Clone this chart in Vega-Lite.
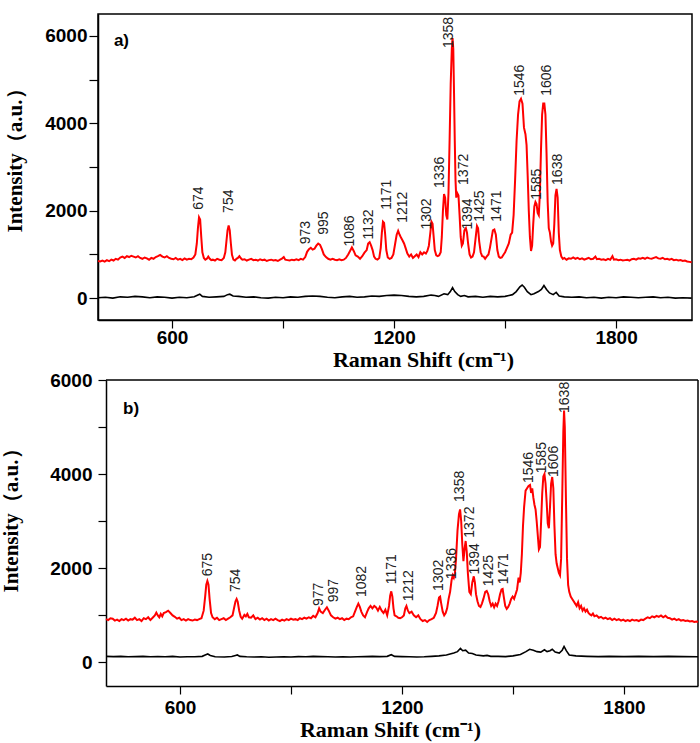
{
  "$schema": "https://vega.github.io/schema/vega-lite/v6.json",
  "padding": {"left": 0, "top": 13, "right": 3, "bottom": 2},
  "background": "white",
  "config": {
    "view": {"stroke": "#000", "strokeWidth": 1.5},
    "axis": {"grid": false, "domainColor": "#000", "domainWidth": 1.5, "tickColor": "#000", "tickWidth": 1.2, "tickSize": 8, "labelFont": "Liberation Sans", "labelFontWeight": "bold", "labelFontSize": 19, "labelColor": "#000", "titleFont": "Liberation Serif", "titleFontWeight": "bold", "titleFontSize": 21, "titleColor": "#000", "labelFlush": false}
  },
  "datasets": {
    "a_sample": [
      {"shift":400,"intensity":850},{"shift":406,"intensity":840},{"shift":412,"intensity":860},{"shift":418,"intensity":835},{"shift":424,"intensity":870},{"shift":430,"intensity":845},{"shift":436,"intensity":880},{"shift":442,"intensity":860},{"shift":448,"intensity":900},{"shift":454,"intensity":880},{"shift":460,"intensity":930},{"shift":466,"intensity":950},{"shift":472,"intensity":920},{"shift":478,"intensity":960},{"shift":484,"intensity":940},{"shift":490,"intensity":970},{"shift":496,"intensity":950},{"shift":502,"intensity":930},{"shift":508,"intensity":960},{"shift":514,"intensity":920},{"shift":520,"intensity":900},{"shift":526,"intensity":930},{"shift":532,"intensity":910},{"shift":538,"intensity":880},{"shift":544,"intensity":920},{"shift":550,"intensity":900},{"shift":556,"intensity":940},{"shift":562,"intensity":960},{"shift":568,"intensity":990},{"shift":574,"intensity":950},{"shift":580,"intensity":930},{"shift":586,"intensity":960},{"shift":592,"intensity":920},{"shift":598,"intensity":900},{"shift":604,"intensity":890},{"shift":610,"intensity":920},{"shift":616,"intensity":880},{"shift":622,"intensity":900},{"shift":628,"intensity":870},{"shift":634,"intensity":910},{"shift":640,"intensity":880},{"shift":646,"intensity":900},{"shift":652,"intensity":890},{"shift":658,"intensity":930},{"shift":663,"intensity":1000},{"shift":667,"intensity":1250},{"shift":670,"intensity":1600},{"shift":673,"intensity":1850},{"shift":676,"intensity":1800},{"shift":679,"intensity":1400},{"shift":682,"intensity":1050},{"shift":686,"intensity":920},{"shift":690,"intensity":880},{"shift":694,"intensity":900},{"shift":698,"intensity":950},{"shift":702,"intensity":900},{"shift":706,"intensity":870},{"shift":710,"intensity":880},{"shift":716,"intensity":860},{"shift":722,"intensity":900},{"shift":728,"intensity":880},{"shift":734,"intensity":870},{"shift":740,"intensity":920},{"shift":744,"intensity":1050},{"shift":747,"intensity":1300},{"shift":750,"intensity":1550},{"shift":753,"intensity":1660},{"shift":756,"intensity":1550},{"shift":759,"intensity":1250},{"shift":762,"intensity":990},{"shift":766,"intensity":880},{"shift":770,"intensity":860},{"shift":774,"intensity":900},{"shift":778,"intensity":920},{"shift":782,"intensity":960},{"shift":786,"intensity":910},{"shift":790,"intensity":880},{"shift":796,"intensity":890},{"shift":802,"intensity":860},{"shift":808,"intensity":880},{"shift":814,"intensity":900},{"shift":820,"intensity":870},{"shift":826,"intensity":880},{"shift":832,"intensity":860},{"shift":838,"intensity":890},{"shift":844,"intensity":870},{"shift":850,"intensity":880},{"shift":856,"intensity":850},{"shift":862,"intensity":870},{"shift":868,"intensity":880},{"shift":874,"intensity":860},{"shift":880,"intensity":870},{"shift":886,"intensity":850},{"shift":892,"intensity":880},{"shift":898,"intensity":910},{"shift":902,"intensity":940},{"shift":906,"intensity":880},{"shift":912,"intensity":870},{"shift":918,"intensity":860},{"shift":924,"intensity":880},{"shift":930,"intensity":870},{"shift":936,"intensity":890},{"shift":942,"intensity":870},{"shift":948,"intensity":900},{"shift":954,"intensity":880},{"shift":960,"intensity":940},{"shift":965,"intensity":1060},{"shift":970,"intensity":1120},{"shift":975,"intensity":1150},{"shift":980,"intensity":1110},{"shift":985,"intensity":1130},{"shift":990,"intensity":1200},{"shift":995,"intensity":1250},{"shift":1000,"intensity":1220},{"shift":1005,"intensity":1120},{"shift":1010,"intensity":1000},{"shift":1016,"intensity":940},{"shift":1022,"intensity":900},{"shift":1028,"intensity":880},{"shift":1034,"intensity":900},{"shift":1040,"intensity":880},{"shift":1046,"intensity":870},{"shift":1052,"intensity":890},{"shift":1058,"intensity":870},{"shift":1064,"intensity":880},{"shift":1070,"intensity":920},{"shift":1076,"intensity":1000},{"shift":1081,"intensity":1080},{"shift":1086,"intensity":1160},{"shift":1091,"intensity":1080},{"shift":1096,"intensity":980},{"shift":1102,"intensity":950},{"shift":1108,"intensity":900},{"shift":1114,"intensity":960},{"shift":1120,"intensity":1040},{"shift":1126,"intensity":1100},{"shift":1130,"intensity":1250},{"shift":1134,"intensity":1280},{"shift":1138,"intensity":1200},{"shift":1142,"intensity":1100},{"shift":1146,"intensity":950},{"shift":1150,"intensity":900},{"shift":1155,"intensity":880},{"shift":1160,"intensity":920},{"shift":1164,"intensity":1150},{"shift":1167,"intensity":1500},{"shift":1170,"intensity":1750},{"shift":1173,"intensity":1720},{"shift":1176,"intensity":1450},{"shift":1179,"intensity":1100},{"shift":1183,"intensity":930},{"shift":1188,"intensity":900},{"shift":1193,"intensity":920},{"shift":1198,"intensity":1000},{"shift":1203,"intensity":1250},{"shift":1207,"intensity":1450},{"shift":1211,"intensity":1540},{"shift":1215,"intensity":1450},{"shift":1219,"intensity":1380},{"shift":1223,"intensity":1320},{"shift":1227,"intensity":1250},{"shift":1231,"intensity":1150},{"shift":1236,"intensity":1020},{"shift":1241,"intensity":950},{"shift":1246,"intensity":1000},{"shift":1251,"intensity":920},{"shift":1256,"intensity":960},{"shift":1261,"intensity":1000},{"shift":1266,"intensity":940},{"shift":1271,"intensity":1050},{"shift":1276,"intensity":1000},{"shift":1281,"intensity":1050},{"shift":1286,"intensity":1020},{"shift":1290,"intensity":1080},{"shift":1294,"intensity":1200},{"shift":1298,"intensity":1500},{"shift":1301,"intensity":1750},{"shift":1304,"intensity":1700},{"shift":1307,"intensity":1400},{"shift":1310,"intensity":1100},{"shift":1314,"intensity":980},{"shift":1318,"intensity":960},{"shift":1322,"intensity":980},{"shift":1326,"intensity":1050},{"shift":1329,"intensity":1400},{"shift":1332,"intensity":2000},{"shift":1335,"intensity":2380},{"shift":1338,"intensity":2300},{"shift":1341,"intensity":1900},{"shift":1344,"intensity":1800},{"shift":1347,"intensity":2400},{"shift":1350,"intensity":3600},{"shift":1353,"intensity":4900},{"shift":1356,"intensity":5700},{"shift":1358,"intensity":5950},{"shift":1360,"intensity":5700},{"shift":1362,"intensity":4700},{"shift":1364,"intensity":3600},{"shift":1366,"intensity":2700},{"shift":1368,"intensity":2300},{"shift":1371,"intensity":2400},{"shift":1374,"intensity":2350},{"shift":1377,"intensity":1900},{"shift":1380,"intensity":1400},{"shift":1383,"intensity":1200},{"shift":1386,"intensity":1250},{"shift":1390,"intensity":1550},{"shift":1394,"intensity":1600},{"shift":1397,"intensity":1500},{"shift":1400,"intensity":1250},{"shift":1404,"intensity":1000},{"shift":1408,"intensity":930},{"shift":1412,"intensity":950},{"shift":1416,"intensity":1050},{"shift":1420,"intensity":1350},{"shift":1424,"intensity":1650},{"shift":1427,"intensity":1600},{"shift":1430,"intensity":1300},{"shift":1434,"intensity":1050},{"shift":1438,"intensity":960},{"shift":1442,"intensity":950},{"shift":1446,"intensity":900},{"shift":1450,"intensity":950},{"shift":1455,"intensity":1000},{"shift":1459,"intensity":1150},{"shift":1463,"intensity":1350},{"shift":1467,"intensity":1550},{"shift":1471,"intensity":1570},{"shift":1475,"intensity":1450},{"shift":1479,"intensity":1100},{"shift":1483,"intensity":950},{"shift":1487,"intensity":920},{"shift":1491,"intensity":930},{"shift":1496,"intensity":1000},{"shift":1500,"intensity":1050},{"shift":1505,"intensity":1150},{"shift":1510,"intensity":1250},{"shift":1515,"intensity":1450},{"shift":1519,"intensity":1500},{"shift":1523,"intensity":1900},{"shift":1527,"intensity":2700},{"shift":1531,"intensity":3600},{"shift":1535,"intensity":4200},{"shift":1539,"intensity":4500},{"shift":1543,"intensity":4560},{"shift":1547,"intensity":4450},{"shift":1551,"intensity":3900},{"shift":1555,"intensity":3750},{"shift":1558,"intensity":3500},{"shift":1561,"intensity":2800},{"shift":1564,"intensity":2000},{"shift":1567,"intensity":1400},{"shift":1570,"intensity":1080},{"shift":1573,"intensity":1200},{"shift":1576,"intensity":1700},{"shift":1579,"intensity":2100},{"shift":1582,"intensity":2200},{"shift":1585,"intensity":2150},{"shift":1588,"intensity":1950},{"shift":1591,"intensity":1900},{"shift":1594,"intensity":2400},{"shift":1597,"intensity":3400},{"shift":1600,"intensity":4200},{"shift":1603,"intensity":4450},{"shift":1606,"intensity":4450},{"shift":1609,"intensity":4200},{"shift":1612,"intensity":3300},{"shift":1615,"intensity":2200},{"shift":1618,"intensity":1600},{"shift":1621,"intensity":1500},{"shift":1624,"intensity":1300},{"shift":1627,"intensity":1200},{"shift":1630,"intensity":1250},{"shift":1633,"intensity":1700},{"shift":1636,"intensity":2350},{"shift":1639,"intensity":2500},{"shift":1642,"intensity":2300},{"shift":1645,"intensity":1500},{"shift":1648,"intensity":1100},{"shift":1652,"intensity":950},{"shift":1656,"intensity":900},{"shift":1660,"intensity":920},{"shift":1666,"intensity":880},{"shift":1672,"intensity":910},{"shift":1678,"intensity":900},{"shift":1684,"intensity":930},{"shift":1690,"intensity":900},{"shift":1696,"intensity":920},{"shift":1702,"intensity":890},{"shift":1708,"intensity":910},{"shift":1714,"intensity":880},{"shift":1720,"intensity":900},{"shift":1726,"intensity":920},{"shift":1732,"intensity":890},{"shift":1738,"intensity":900},{"shift":1744,"intensity":950},{"shift":1748,"intensity":890},{"shift":1754,"intensity":900},{"shift":1760,"intensity":880},{"shift":1766,"intensity":890},{"shift":1772,"intensity":870},{"shift":1778,"intensity":900},{"shift":1784,"intensity":880},{"shift":1790,"intensity":960},{"shift":1794,"intensity":880},{"shift":1800,"intensity":890},{"shift":1806,"intensity":870},{"shift":1812,"intensity":880},{"shift":1818,"intensity":860},{"shift":1824,"intensity":870},{"shift":1830,"intensity":880},{"shift":1836,"intensity":860},{"shift":1842,"intensity":890},{"shift":1848,"intensity":900},{"shift":1854,"intensity":880},{"shift":1860,"intensity":910},{"shift":1866,"intensity":900},{"shift":1872,"intensity":920},{"shift":1878,"intensity":900},{"shift":1884,"intensity":930},{"shift":1890,"intensity":910},{"shift":1896,"intensity":900},{"shift":1902,"intensity":920},{"shift":1908,"intensity":940},{"shift":1914,"intensity":910},{"shift":1920,"intensity":900},{"shift":1926,"intensity":920},{"shift":1932,"intensity":890},{"shift":1938,"intensity":900},{"shift":1944,"intensity":880},{"shift":1950,"intensity":900},{"shift":1956,"intensity":870},{"shift":1962,"intensity":880},{"shift":1968,"intensity":860},{"shift":1974,"intensity":870},{"shift":1980,"intensity":850},{"shift":1986,"intensity":860},{"shift":1992,"intensity":840},{"shift":1998,"intensity":830},{"shift":2004,"intensity":820}
    ],
    "a_blank": [
      {"shift":400,"intensity":10},{"shift":420,"intensity":20},{"shift":440,"intensity":0},{"shift":460,"intensity":30},{"shift":480,"intensity":20},{"shift":500,"intensity":40},{"shift":520,"intensity":30},{"shift":540,"intensity":10},{"shift":560,"intensity":30},{"shift":580,"intensity":20},{"shift":600,"intensity":0},{"shift":620,"intensity":20},{"shift":640,"intensity":10},{"shift":660,"intensity":30},{"shift":670,"intensity":70},{"shift":675,"intensity":90},{"shift":682,"intensity":40},{"shift":700,"intensity":20},{"shift":720,"intensity":30},{"shift":740,"intensity":40},{"shift":750,"intensity":80},{"shift":756,"intensity":90},{"shift":765,"intensity":50},{"shift":780,"intensity":40},{"shift":800,"intensity":20},{"shift":820,"intensity":30},{"shift":840,"intensity":10},{"shift":860,"intensity":0},{"shift":880,"intensity":20},{"shift":900,"intensity":10},{"shift":920,"intensity":30},{"shift":940,"intensity":20},{"shift":960,"intensity":40},{"shift":980,"intensity":50},{"shift":1000,"intensity":40},{"shift":1020,"intensity":20},{"shift":1040,"intensity":10},{"shift":1060,"intensity":30},{"shift":1080,"intensity":40},{"shift":1100,"intensity":20},{"shift":1120,"intensity":30},{"shift":1140,"intensity":50},{"shift":1160,"intensity":40},{"shift":1180,"intensity":60},{"shift":1200,"intensity":70},{"shift":1220,"intensity":60},{"shift":1240,"intensity":40},{"shift":1260,"intensity":30},{"shift":1280,"intensity":40},{"shift":1300,"intensity":70},{"shift":1310,"intensity":60},{"shift":1320,"intensity":40},{"shift":1335,"intensity":100},{"shift":1345,"intensity":80},{"shift":1352,"intensity":150},{"shift":1358,"intensity":240},{"shift":1364,"intensity":150},{"shift":1372,"intensity":80},{"shift":1380,"intensity":40},{"shift":1390,"intensity":60},{"shift":1400,"intensity":30},{"shift":1420,"intensity":40},{"shift":1440,"intensity":20},{"shift":1460,"intensity":40},{"shift":1480,"intensity":30},{"shift":1500,"intensity":40},{"shift":1520,"intensity":80},{"shift":1530,"intensity":150},{"shift":1540,"intensity":260},{"shift":1546,"intensity":300},{"shift":1552,"intensity":250},{"shift":1560,"intensity":150},{"shift":1570,"intensity":80},{"shift":1578,"intensity":100},{"shift":1590,"intensity":150},{"shift":1598,"intensity":200},{"shift":1605,"intensity":290},{"shift":1612,"intensity":200},{"shift":1620,"intensity":120},{"shift":1630,"intensity":80},{"shift":1638,"intensity":130},{"shift":1646,"intensity":50},{"shift":1660,"intensity":30},{"shift":1680,"intensity":20},{"shift":1700,"intensity":30},{"shift":1720,"intensity":10},{"shift":1740,"intensity":20},{"shift":1760,"intensity":0},{"shift":1780,"intensity":20},{"shift":1800,"intensity":10},{"shift":1820,"intensity":30},{"shift":1840,"intensity":20},{"shift":1860,"intensity":10},{"shift":1880,"intensity":20},{"shift":1900,"intensity":30},{"shift":1920,"intensity":10},{"shift":1940,"intensity":20},{"shift":1960,"intensity":0},{"shift":1980,"intensity":10},{"shift":2004,"intensity":0}
    ],
    "a_labels": [
      {"shift":674,"intensity":2020,"label":"674"},{"shift":754,"intensity":1950,"label":"754"},{"shift":963,"intensity":1230,"label":"973"},{"shift":1010,"intensity":1450,"label":"995"},{"shift":1082,"intensity":1180,"label":"1086"},{"shift":1133,"intensity":1340,"label":"1132"},{"shift":1180,"intensity":2020,"label":"1171"},{"shift":1225,"intensity":1725,"label":"1212"},{"shift":1290,"intensity":1570,"label":"1302"},{"shift":1325,"intensity":2520,"label":"1336"},{"shift":1349,"intensity":5720,"label":"1358"},{"shift":1390,"intensity":2590,"label":"1372"},{"shift":1400,"intensity":1570,"label":"1394"},{"shift":1433,"intensity":1750,"label":"1425"},{"shift":1479,"intensity":1750,"label":"1471"},{"shift":1541,"intensity":4630,"label":"1546"},{"shift":1587,"intensity":2250,"label":"1585"},{"shift":1613,"intensity":4630,"label":"1606"},{"shift":1643,"intensity":2590,"label":"1638"}
    ],
    "b_sample": [
      {"shift":400,"intensity":920},{"shift":406,"intensity":900},{"shift":412,"intensity":940},{"shift":418,"intensity":930},{"shift":424,"intensity":890},{"shift":430,"intensity":910},{"shift":436,"intensity":880},{"shift":442,"intensity":920},{"shift":448,"intensity":900},{"shift":454,"intensity":930},{"shift":460,"intensity":890},{"shift":466,"intensity":920},{"shift":472,"intensity":910},{"shift":478,"intensity":950},{"shift":484,"intensity":900},{"shift":490,"intensity":920},{"shift":496,"intensity":880},{"shift":502,"intensity":940},{"shift":508,"intensity":920},{"shift":514,"intensity":960},{"shift":520,"intensity":900},{"shift":526,"intensity":950},{"shift":532,"intensity":1000},{"shift":536,"intensity":1060},{"shift":540,"intensity":1000},{"shift":544,"intensity":960},{"shift":548,"intensity":1030},{"shift":552,"intensity":980},{"shift":556,"intensity":1050},{"shift":562,"intensity":1070},{"shift":568,"intensity":1100},{"shift":574,"intensity":1050},{"shift":580,"intensity":1000},{"shift":586,"intensity":970},{"shift":592,"intensity":930},{"shift":598,"intensity":950},{"shift":604,"intensity":900},{"shift":610,"intensity":920},{"shift":616,"intensity":890},{"shift":622,"intensity":920},{"shift":628,"intensity":900},{"shift":634,"intensity":890},{"shift":640,"intensity":910},{"shift":646,"intensity":900},{"shift":652,"intensity":920},{"shift":658,"intensity":940},{"shift":664,"intensity":1100},{"shift":668,"intensity":1400},{"shift":671,"intensity":1650},{"shift":674,"intensity":1730},{"shift":677,"intensity":1650},{"shift":680,"intensity":1350},{"shift":684,"intensity":1050},{"shift":688,"intensity":960},{"shift":694,"intensity":920},{"shift":700,"intensity":950},{"shift":706,"intensity":900},{"shift":712,"intensity":920},{"shift":718,"intensity":940},{"shift":724,"intensity":900},{"shift":730,"intensity":930},{"shift":736,"intensity":960},{"shift":742,"intensity":1000},{"shift":746,"intensity":1150},{"shift":750,"intensity":1300},{"shift":753,"intensity":1350},{"shift":756,"intensity":1290},{"shift":760,"intensity":1100},{"shift":764,"intensity":970},{"shift":768,"intensity":930},{"shift":774,"intensity":1010},{"shift":778,"intensity":980},{"shift":782,"intensity":1030},{"shift":786,"intensity":960},{"shift":792,"intensity":950},{"shift":798,"intensity":1000},{"shift":804,"intensity":920},{"shift":810,"intensity":950},{"shift":816,"intensity":910},{"shift":822,"intensity":940},{"shift":828,"intensity":900},{"shift":834,"intensity":930},{"shift":840,"intensity":890},{"shift":846,"intensity":920},{"shift":852,"intensity":900},{"shift":858,"intensity":930},{"shift":864,"intensity":900},{"shift":870,"intensity":880},{"shift":876,"intensity":910},{"shift":882,"intensity":890},{"shift":888,"intensity":920},{"shift":894,"intensity":900},{"shift":900,"intensity":930},{"shift":906,"intensity":910},{"shift":912,"intensity":920},{"shift":918,"intensity":900},{"shift":924,"intensity":940},{"shift":930,"intensity":920},{"shift":936,"intensity":950},{"shift":942,"intensity":930},{"shift":948,"intensity":960},{"shift":954,"intensity":940},{"shift":960,"intensity":990},{"shift":966,"intensity":960},{"shift":972,"intensity":1050},{"shift":976,"intensity":1150},{"shift":980,"intensity":1080},{"shift":986,"intensity":1050},{"shift":992,"intensity":1120},{"shift":997,"intensity":1170},{"shift":1002,"intensity":1100},{"shift":1008,"intensity":1000},{"shift":1014,"intensity":960},{"shift":1020,"intensity":930},{"shift":1026,"intensity":950},{"shift":1032,"intensity":920},{"shift":1038,"intensity":940},{"shift":1044,"intensity":900},{"shift":1050,"intensity":930},{"shift":1056,"intensity":920},{"shift":1062,"intensity":960},{"shift":1068,"intensity":980},{"shift":1074,"intensity":1100},{"shift":1078,"intensity":1180},{"shift":1082,"intensity":1250},{"shift":1086,"intensity":1180},{"shift":1090,"intensity":1080},{"shift":1095,"intensity":1000},{"shift":1100,"intensity":960},{"shift":1106,"intensity":1080},{"shift":1110,"intensity":1150},{"shift":1115,"intensity":1200},{"shift":1120,"intensity":1150},{"shift":1125,"intensity":1200},{"shift":1130,"intensity":1170},{"shift":1135,"intensity":1100},{"shift":1140,"intensity":1180},{"shift":1145,"intensity":1100},{"shift":1150,"intensity":1050},{"shift":1155,"intensity":1120},{"shift":1160,"intensity":1000},{"shift":1165,"intensity":1200},{"shift":1168,"intensity":1420},{"shift":1171,"intensity":1510},{"shift":1174,"intensity":1400},{"shift":1177,"intensity":1150},{"shift":1180,"intensity":1000},{"shift":1185,"intensity":980},{"shift":1190,"intensity":950},{"shift":1195,"intensity":940},{"shift":1200,"intensity":960},{"shift":1205,"intensity":1000},{"shift":1209,"intensity":1150},{"shift":1212,"intensity":1200},{"shift":1216,"intensity":1100},{"shift":1220,"intensity":1050},{"shift":1226,"intensity":1080},{"shift":1232,"intensity":1000},{"shift":1238,"intensity":960},{"shift":1244,"intensity":1000},{"shift":1250,"intensity":920},{"shift":1256,"intensity":880},{"shift":1262,"intensity":900},{"shift":1268,"intensity":860},{"shift":1274,"intensity":900},{"shift":1280,"intensity":920},{"shift":1286,"intensity":950},{"shift":1292,"intensity":1050},{"shift":1296,"intensity":1200},{"shift":1300,"intensity":1380},{"shift":1303,"intensity":1400},{"shift":1306,"intensity":1250},{"shift":1310,"intensity":1080},{"shift":1314,"intensity":1000},{"shift":1318,"intensity":1050},{"shift":1322,"intensity":1150},{"shift":1326,"intensity":1350},{"shift":1330,"intensity":1500},{"shift":1334,"intensity":1750},{"shift":1337,"intensity":1850},{"shift":1340,"intensity":1800},{"shift":1343,"intensity":1900},{"shift":1346,"intensity":2200},{"shift":1350,"intensity":2800},{"shift":1354,"intensity":3150},{"shift":1357,"intensity":3250},{"shift":1360,"intensity":3000},{"shift":1363,"intensity":2500},{"shift":1366,"intensity":2150},{"shift":1369,"intensity":2400},{"shift":1372,"intensity":2580},{"shift":1375,"intensity":2350},{"shift":1378,"intensity":1900},{"shift":1382,"intensity":1500},{"shift":1386,"intensity":1450},{"shift":1390,"intensity":1700},{"shift":1394,"intensity":1830},{"shift":1397,"intensity":1700},{"shift":1400,"intensity":1450},{"shift":1404,"intensity":1300},{"shift":1408,"intensity":1200},{"shift":1412,"intensity":1180},{"shift":1416,"intensity":1250},{"shift":1420,"intensity":1350},{"shift":1425,"intensity":1500},{"shift":1429,"intensity":1520},{"shift":1433,"intensity":1450},{"shift":1437,"intensity":1300},{"shift":1441,"intensity":1200},{"shift":1445,"intensity":1250},{"shift":1449,"intensity":1170},{"shift":1453,"intensity":1250},{"shift":1457,"intensity":1200},{"shift":1461,"intensity":1300},{"shift":1465,"intensity":1450},{"shift":1469,"intensity":1550},{"shift":1472,"intensity":1560},{"shift":1475,"intensity":1400},{"shift":1479,"intensity":1200},{"shift":1483,"intensity":1140},{"shift":1487,"intensity":1180},{"shift":1491,"intensity":1250},{"shift":1495,"intensity":1350},{"shift":1499,"intensity":1400},{"shift":1503,"intensity":1350},{"shift":1507,"intensity":1450},{"shift":1511,"intensity":1550},{"shift":1515,"intensity":1800},{"shift":1518,"intensity":1700},{"shift":1521,"intensity":1900},{"shift":1524,"intensity":2300},{"shift":1527,"intensity":2900},{"shift":1530,"intensity":3300},{"shift":1534,"intensity":3650},{"shift":1538,"intensity":3700},{"shift":1542,"intensity":3750},{"shift":1546,"intensity":3770},{"shift":1549,"intensity":3600},{"shift":1552,"intensity":3700},{"shift":1555,"intensity":3500},{"shift":1558,"intensity":3350},{"shift":1561,"intensity":3250},{"shift":1564,"intensity":3000},{"shift":1567,"intensity":2700},{"shift":1570,"intensity":2400},{"shift":1573,"intensity":2450},{"shift":1576,"intensity":3000},{"shift":1579,"intensity":3600},{"shift":1582,"intensity":3950},{"shift":1585,"intensity":4000},{"shift":1588,"intensity":3800},{"shift":1591,"intensity":3400},{"shift":1594,"intensity":2950},{"shift":1597,"intensity":2850},{"shift":1600,"intensity":3300},{"shift":1603,"intensity":3800},{"shift":1606,"intensity":3940},{"shift":1609,"intensity":3700},{"shift":1612,"intensity":2900},{"shift":1615,"intensity":2300},{"shift":1618,"intensity":2100},{"shift":1621,"intensity":2000},{"shift":1624,"intensity":1900},{"shift":1627,"intensity":1850},{"shift":1630,"intensity":2200},{"shift":1633,"intensity":3500},{"shift":1636,"intensity":4900},{"shift":1638,"intensity":5350},{"shift":1640,"intensity":5000},{"shift":1643,"intensity":3500},{"shift":1646,"intensity":2200},{"shift":1649,"intensity":1650},{"shift":1652,"intensity":1500},{"shift":1656,"intensity":1400},{"shift":1660,"intensity":1350},{"shift":1664,"intensity":1300},{"shift":1668,"intensity":1250},{"shift":1672,"intensity":1200},{"shift":1676,"intensity":1280},{"shift":1680,"intensity":1150},{"shift":1684,"intensity":1200},{"shift":1688,"intensity":1100},{"shift":1692,"intensity":1150},{"shift":1696,"intensity":1080},{"shift":1700,"intensity":1120},{"shift":1704,"intensity":1050},{"shift":1708,"intensity":1020},{"shift":1712,"intensity":1000},{"shift":1716,"intensity":1040},{"shift":1720,"intensity":980},{"shift":1726,"intensity":1000},{"shift":1732,"intensity":950},{"shift":1738,"intensity":970},{"shift":1744,"intensity":930},{"shift":1750,"intensity":950},{"shift":1756,"intensity":920},{"shift":1762,"intensity":940},{"shift":1768,"intensity":900},{"shift":1774,"intensity":930},{"shift":1780,"intensity":900},{"shift":1786,"intensity":920},{"shift":1792,"intensity":890},{"shift":1798,"intensity":910},{"shift":1804,"intensity":880},{"shift":1810,"intensity":900},{"shift":1816,"intensity":880},{"shift":1822,"intensity":910},{"shift":1828,"intensity":890},{"shift":1834,"intensity":900},{"shift":1840,"intensity":880},{"shift":1846,"intensity":910},{"shift":1852,"intensity":900},{"shift":1858,"intensity":930},{"shift":1864,"intensity":960},{"shift":1870,"intensity":940},{"shift":1876,"intensity":980},{"shift":1882,"intensity":960},{"shift":1888,"intensity":990},{"shift":1894,"intensity":970},{"shift":1900,"intensity":1000},{"shift":1906,"intensity":960},{"shift":1912,"intensity":990},{"shift":1918,"intensity":950},{"shift":1924,"intensity":940},{"shift":1930,"intensity":910},{"shift":1936,"intensity":930},{"shift":1942,"intensity":900},{"shift":1948,"intensity":920},{"shift":1954,"intensity":890},{"shift":1960,"intensity":900},{"shift":1966,"intensity":880},{"shift":1972,"intensity":890},{"shift":1978,"intensity":870},{"shift":1984,"intensity":880},{"shift":1990,"intensity":860},{"shift":1996,"intensity":870},{"shift":2000,"intensity":860}
    ],
    "b_blank": [
      {"shift":400,"intensity":130},{"shift":420,"intensity":125},{"shift":440,"intensity":130},{"shift":460,"intensity":120},{"shift":480,"intensity":125},{"shift":500,"intensity":130},{"shift":520,"intensity":120},{"shift":540,"intensity":125},{"shift":560,"intensity":120},{"shift":580,"intensity":130},{"shift":600,"intensity":115},{"shift":620,"intensity":120},{"shift":640,"intensity":120},{"shift":660,"intensity":130},{"shift":668,"intensity":160},{"shift":675,"intensity":180},{"shift":682,"intensity":150},{"shift":695,"intensity":120},{"shift":720,"intensity":115},{"shift":740,"intensity":125},{"shift":750,"intensity":150},{"shift":755,"intensity":160},{"shift":762,"intensity":130},{"shift":780,"intensity":120},{"shift":800,"intensity":115},{"shift":820,"intensity":120},{"shift":840,"intensity":110},{"shift":860,"intensity":115},{"shift":880,"intensity":120},{"shift":900,"intensity":115},{"shift":920,"intensity":125},{"shift":940,"intensity":120},{"shift":960,"intensity":130},{"shift":980,"intensity":125},{"shift":1000,"intensity":120},{"shift":1020,"intensity":115},{"shift":1040,"intensity":120},{"shift":1060,"intensity":115},{"shift":1080,"intensity":120},{"shift":1100,"intensity":125},{"shift":1120,"intensity":130},{"shift":1140,"intensity":125},{"shift":1160,"intensity":130},{"shift":1171,"intensity":165},{"shift":1180,"intensity":130},{"shift":1200,"intensity":125},{"shift":1220,"intensity":120},{"shift":1240,"intensity":115},{"shift":1260,"intensity":120},{"shift":1280,"intensity":130},{"shift":1300,"intensity":140},{"shift":1320,"intensity":160},{"shift":1340,"intensity":200},{"shift":1350,"intensity":230},{"shift":1358,"intensity":300},{"shift":1364,"intensity":250},{"shift":1372,"intensity":260},{"shift":1380,"intensity":200},{"shift":1390,"intensity":190},{"shift":1400,"intensity":160},{"shift":1420,"intensity":140},{"shift":1430,"intensity":150},{"shift":1440,"intensity":130},{"shift":1460,"intensity":130},{"shift":1480,"intensity":125},{"shift":1500,"intensity":140},{"shift":1520,"intensity":170},{"shift":1535,"intensity":230},{"shift":1545,"intensity":280},{"shift":1555,"intensity":260},{"shift":1565,"intensity":230},{"shift":1575,"intensity":220},{"shift":1585,"intensity":270},{"shift":1592,"intensity":230},{"shift":1600,"intensity":250},{"shift":1606,"intensity":280},{"shift":1614,"intensity":220},{"shift":1625,"intensity":200},{"shift":1633,"intensity":260},{"shift":1638,"intensity":340},{"shift":1644,"intensity":250},{"shift":1652,"intensity":160},{"shift":1670,"intensity":140},{"shift":1700,"intensity":130},{"shift":1730,"intensity":125},{"shift":1760,"intensity":130},{"shift":1800,"intensity":125},{"shift":1840,"intensity":130},{"shift":1880,"intensity":125},{"shift":1920,"intensity":130},{"shift":1960,"intensity":125},{"shift":2000,"intensity":120}
    ],
    "b_labels": [
      {"shift":676,"intensity":1830,"label":"675"},{"shift":752,"intensity":1495,"label":"754"},{"shift":977,"intensity":1200,"label":"977"},{"shift":1015,"intensity":1280,"label":"997"},{"shift":1091,"intensity":1390,"label":"1082"},{"shift":1172,"intensity":1660,"label":"1171"},{"shift":1218,"intensity":1300,"label":"1212"},{"shift":1300,"intensity":1520,"label":"1302"},{"shift":1335,"intensity":1770,"label":"1336"},{"shift":1357,"intensity":3410,"label":"1358"},{"shift":1384,"intensity":2650,"label":"1372"},{"shift":1397,"intensity":1870,"label":"1394"},{"shift":1435,"intensity":1620,"label":"1425"},{"shift":1476,"intensity":1660,"label":"1471"},{"shift":1544,"intensity":3810,"label":"1546"},{"shift":1579,"intensity":4020,"label":"1585"},{"shift":1611,"intensity":3940,"label":"1606"},{"shift":1641,"intensity":5300,"label":"1638"}
    ],
    "a_tag": [{"shift":443,"intensity":5880,"label":"a)"}],
    "b_tag": [{"shift":446,"intensity":5390,"label":"b)"}],
    "b_frame_top": [{"shift":400,"shift2":2000,"intensity":6000}],
    "b_frame_right": [{"shift":2000,"intensity":-500,"intensity2":6000}]
  },
  "spacing": 0,
  "vconcat": [
    {
      "width": 594,
      "height": 306,
      "encoding": {
        "x": {"field": "shift", "type": "quantitative", "scale": {"domain": [400, 2005], "nice": false, "zero": false},
          "axis": {"values": [600, 900, 1200, 1500, 1800], "format": "d", "labelExpr": "datum.value % 600 == 0 ? datum.label : ''", "title": "Raman Shift (cm⁻¹)", "titleFontSize": 22, "labelPadding": 0, "titlePadding": 2, "titleX": 325}},
        "y": {"field": "intensity", "type": "quantitative", "scale": {"domain": [-500, 6500], "nice": false, "zero": false},
          "axis": {"values": [0, 1000, 2000, 3000, 4000, 5000, 6000], "format": "d", "labelExpr": "datum.value % 2000 == 0 ? datum.label : ''", "title": "Intensity（a.u.）", "tickSize": 9, "labelPadding": 2, "titlePadding": 19, "titleY": 141}}
      },
      "layer": [
        {"data": {"name": "a_blank"}, "mark": {"type": "line", "color": "#000000", "strokeWidth": 1.6}},
        {"data": {"name": "a_sample"}, "mark": {"type": "line", "color": "#ff0000", "strokeWidth": 2}},
        {"data": {"name": "a_labels"}, "mark": {"type": "text", "angle": 270, "align": "left", "baseline": "middle", "font": "Liberation Sans", "fontSize": 14, "color": "#222"}, "encoding": {"text": {"field": "label"}}},
        {"data": {"name": "a_tag"}, "mark": {"type": "text", "align": "left", "baseline": "middle", "font": "Liberation Sans", "fontWeight": "bold", "fontSize": 17, "color": "#000"}, "encoding": {"text": {"field": "label"}}}
      ]
    },
    {
      "width": 600,
      "height": 306,
      "view": {"stroke": null},
      "encoding": {
        "x": {"field": "shift", "type": "quantitative", "scale": {"domain": [400, 2000], "nice": false, "zero": false, "range": [8, 600]},
          "axis": {"values": [600, 900, 1200, 1500, 1800], "format": "d", "labelExpr": "datum.value % 600 == 0 ? datum.label : ''", "title": "Raman Shift (cm⁻¹)", "titleFontSize": 22, "labelPadding": 4, "titlePadding": 2, "titleX": 292}},
        "y": {"field": "intensity", "type": "quantitative", "scale": {"domain": [-500, 6000], "nice": false, "zero": false},
          "axis": {"values": [0, 1000, 2000, 3000, 4000, 5000, 6000], "format": "d", "labelExpr": "datum.value % 2000 == 0 ? datum.label : ''", "title": "Intensity（a.u.）", "offset": -8, "labelPadding": 6, "titlePadding": 28, "titleY": 135}}
      },
      "layer": [
        {"data": {"name": "b_frame_top"}, "mark": {"type": "rule", "color": "#000", "strokeWidth": 1.5}, "encoding": {"x2": {"field": "shift2"}}},
        {"data": {"name": "b_frame_right"}, "mark": {"type": "rule", "color": "#000", "strokeWidth": 1.5}, "encoding": {"y2": {"field": "intensity2"}}},
        {"data": {"name": "b_blank"}, "mark": {"type": "line", "color": "#000000", "strokeWidth": 1.6}},
        {"data": {"name": "b_sample"}, "mark": {"type": "line", "color": "#ff0000", "strokeWidth": 2}},
        {"data": {"name": "b_labels"}, "mark": {"type": "text", "angle": 270, "align": "left", "baseline": "middle", "font": "Liberation Sans", "fontSize": 14, "color": "#222"}, "encoding": {"text": {"field": "label"}}},
        {"data": {"name": "b_tag"}, "mark": {"type": "text", "align": "left", "baseline": "middle", "font": "Liberation Sans", "fontWeight": "bold", "fontSize": 17, "color": "#000"}, "encoding": {"text": {"field": "label"}}}
      ]
    }
  ]
}
